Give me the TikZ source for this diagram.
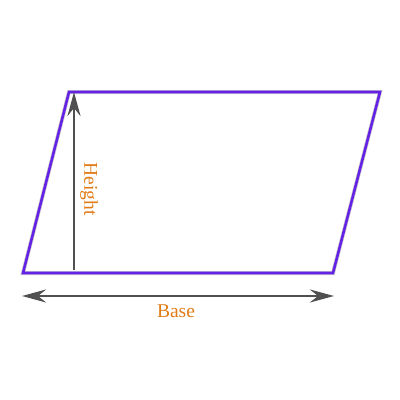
\documentclass[tikz,border=0pt]{standalone}
\usepackage{fontspec}
\setmainfont{Liberation Serif}
\usetikzlibrary{arrows.meta}
\definecolor{edge}{HTML}{6422E6}
\definecolor{lbl}{HTML}{E07B16}
\definecolor{arr}{HTML}{505050}
\tikzset{
  pgram/.style={draw=edge, line width=2.6pt, line join=miter},
  shadowline/.style={draw=black, opacity=0.2, line width=4pt},
  measure/.style={draw=arr, line width=2.2pt, -{Stealth[length=24pt,width=13pt,inset=8pt]}},
  measure2/.style={draw=arr, line width=2.2pt, {Stealth[length=24pt,width=13pt,inset=8pt]}-{Stealth[length=24pt,width=13pt,inset=8pt]}},
  lab/.style={text=lbl, font=\fontsize{19.5}{22}\selectfont, inner sep=0pt}
}
\begin{document}
\begin{tikzpicture}[x=1pt,y=-1pt]
\useasboundingbox (0,0) rectangle (400,400);
\coordinate (bl) at (23,273);
\coordinate (tl) at (69,92);
\coordinate (tr) at (380,92);
\coordinate (br) at (333,273);
\draw[shadowline, xshift=2pt, yshift=-2.5pt] (bl) -- (tl) -- (tr) -- (br) -- cycle;
\draw[pgram] (bl) -- (tl) -- (tr) -- (br) -- cycle;
\coordinate (h0) at (74,270);
\coordinate (h1) at (74,92);
\draw[measure] (h0) -- (h1);
\coordinate (b0) at (22,296);
\coordinate (b1) at (334,296);
\draw[measure2] (b0) -- (b1);
\node[lab, rotate=-90] (height) at (89,189) {Height};
\node[lab] (base) at (176,311) {Base};
\end{tikzpicture}
\end{document}
